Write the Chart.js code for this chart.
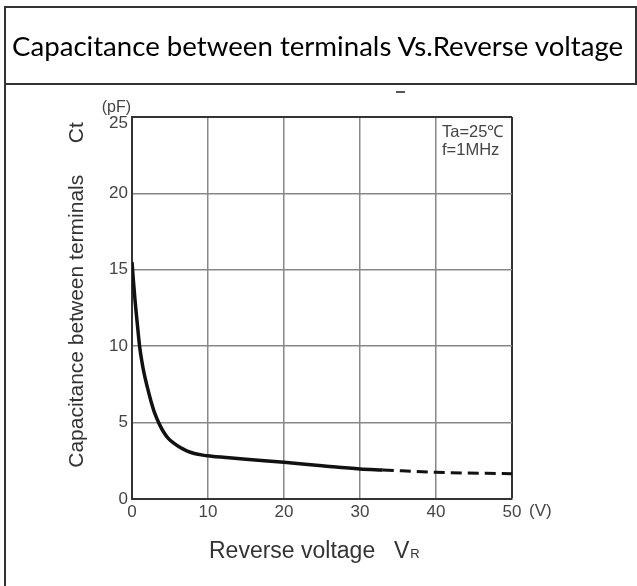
<!DOCTYPE html>
<html>
<head>
<meta charset="utf-8">
<script src="https://cdn.jsdelivr.net/npm/chart.js@4/dist/chart.umd.min.js"></script>
<style>
  html, body { margin: 0; padding: 0; background: #fff; }
  #wrap { position: relative; width: 637px; height: 586px; overflow: hidden; background: #fff; }
  #c { position: absolute; left: 0; top: 0; }
  #frame { position: absolute; left: 4px; top: 6px; width: 640px; height: 600px;
           border-left: 2px solid #333; border-top: 2px solid #333; pointer-events: none; }
  #rightEdge { position: absolute; left: 635px; top: 6px; width: 2px; height: 79px; background: #333; }
  #titleLine { position: absolute; left: 4px; top: 83px; width: 640px; height: 2px; background: #333; }
  #stray { position: absolute; left: 396px; top: 91px; width: 9px; height: 2px; background: #555; }
  #title { position: absolute; left: 12px; top: 30px; font-family: Lato, "Open Sans", sans-serif;
           color: #000; white-space: nowrap; line-height: 1; }
</style>
</head>
<body>
<div id="wrap">
  <canvas id="c" width="637" height="586"></canvas>
  <div id="frame"></div>
  <div id="rightEdge"></div>
  <div id="titleLine"></div>
  <div id="stray"></div>
  <div id="title">Capacitance between terminals Vs.Reverse voltage</div>
</div>
<script>
// ---- data ----
const voltageSolid = [0, 0.2, 0.4, 0.6, 0.8, 1.0, 1.3, 1.6, 2.0, 2.5, 3.0, 3.6, 4.2, 4.8, 5.5, 6.3, 7.2, 8.2, 9.3, 10.5, 12, 15, 20, 25, 30, 33];
const capSolid     = [15.5, 14.2, 13.0, 11.95, 10.95, 10.0, 9.0, 8.2, 7.35, 6.4, 5.6, 4.9, 4.35, 3.95, 3.65, 3.38, 3.15, 2.98, 2.87, 2.8, 2.73, 2.6, 2.4, 2.18, 1.97, 1.9];
const voltageDashed = [33, 40, 50];
const capDashed     = [1.9, 1.75, 1.65];
const xTicks = [0, 10, 20, 30, 40, 50];
const yTicks = [0, 5, 10, 15, 20, 25];
const titleText = 'Capacitance between terminals Vs.Reverse voltage';
const yAxisTitle = 'Capacitance between terminals';
const yAxisSymbol = 'Ct';
const xAxisTitle = 'Reverse voltage';
const conditions = ['Ta=25\u2103', 'f=1MHz'];

// fit title width
(function fitTitle() {
  const el = document.getElementById('title');
  const cv = document.createElement('canvas').getContext('2d');
  let size = 24;
  cv.font = size + 'px Lato';
  const w = cv.measureText(titleText).width;
  size = size * 613 / w;
  el.style.fontSize = size.toFixed(2) + 'px';
  el.style.top = (47 - size * 0.55) + 'px';
})();

const toPts = (xs, ys) => xs.map((x, i) => ({ x: x, y: ys[i] }));

const TICK_COLOR = '#444';
const FAM = '"Liberation Sans", Arial, sans-serif';
const tickFont = { family: FAM, size: 17 };
const yMax = yTicks[yTicks.length - 1];

const decorations = {
  id: 'decorations',
  afterDraw(chart) {
    const { ctx, scales } = chart;
    const xs = scales.x, ys = scales.y;
    ctx.save();
    ctx.fillStyle = TICK_COLOR;
    ctx.font = '17px ' + FAM;
    ctx.textAlign = 'right';
    ctx.textBaseline = 'middle';
    ctx.fillText(String(yMax), xs.getPixelForValue(0) - 4, ys.getPixelForValue(yMax) + 6);
    ctx.font = '16px ' + FAM;
    ctx.fillText('(pF)', xs.getPixelForValue(0) - 1, ys.getPixelForValue(yMax) - 9);
    ctx.font = '17px ' + FAM;
    ctx.textAlign = 'left';
    ctx.textBaseline = 'top';
    ctx.fillText('(V)', xs.getPixelForValue(50) + 17, ys.getPixelForValue(0) + 4);
    ctx.fillStyle = '#444';
    ctx.font = '16.5px ' + FAM;
    ctx.textAlign = 'left';
    ctx.textBaseline = 'middle';
    ctx.fillText(conditions[0], xs.getPixelForValue(40) + 6, ys.getPixelForValue(yMax) + 15);
    ctx.fillText(conditions[1], xs.getPixelForValue(40) + 6, ys.getPixelForValue(yMax) + 33);
    ctx.fillStyle = '#333';
    ctx.font = '21px ' + FAM;
    ctx.translate(77, 295);
    ctx.rotate(-Math.PI / 2);
    ctx.textAlign = 'center';
    ctx.textBaseline = 'middle';
    ctx.fillText(yAxisTitle + '\u2003\u2002' + yAxisSymbol, 0, 0);
    ctx.restore();
    ctx.save();
    ctx.fillStyle = '#333';
    ctx.font = '23px ' + FAM;
    ctx.textBaseline = 'alphabetic';
    ctx.textAlign = 'left';
    const xt = 209, yt = 558;
    ctx.fillText(xAxisTitle, xt, yt);
    const vx = 394;
    ctx.fillText('V', vx, yt);
    const wv = ctx.measureText('V').width;
    ctx.font = '13px ' + FAM;
    ctx.fillText('R', vx + wv + 1, yt);
    ctx.restore();
  }
};

new Chart(document.getElementById('c'), {
  type: 'line',
  data: {
    datasets: [
      { data: toPts(voltageSolid, capSolid), borderColor: '#111', borderWidth: 3.5,
        pointRadius: 0, cubicInterpolationMode: 'monotone', fill: false },
      { data: toPts(voltageDashed, capDashed), borderColor: '#111', borderWidth: 3,
        borderDash: [11, 6], pointRadius: 0, cubicInterpolationMode: 'monotone', fill: false }
    ]
  },
  options: {
    responsive: false,
    animation: false,
    layout: { padding: { left: 0, top: 117, right: 125, bottom: 0 } },
    plugins: { legend: { display: false }, tooltip: { enabled: false }, title: { display: false } },
    scales: {
      x: {
        type: 'linear', min: 0, max: 50,
        afterBuildTicks: (s) => { s.ticks = xTicks.map(v => ({ value: v })); },
        afterFit: (s) => { s.height = 87; },
        ticks: { color: TICK_COLOR, font: tickFont, padding: 3, maxRotation: 0, autoSkip: false },
        grid: { drawTicks: false,
                color: (c) => (c.tick && (c.tick.value === 50)) ? '#333' : '#888',
                lineWidth: (c) => (c.tick && (c.tick.value === 50)) ? 2 : 1.5 },
        border: { display: true, color: '#333', width: 2 }
      },
      y: {
        type: 'linear', min: 0, max: 25,
        afterBuildTicks: (s) => { s.ticks = yTicks.map(v => ({ value: v })); },
        afterFit: (s) => { s.width = 132; },
        ticks: { color: TICK_COLOR, font: tickFont, padding: 4, autoSkip: false,
                 callback: (v) => (v === yMax ? '' : String(v)) },
        grid: { drawTicks: false,
                color: (c) => (c.tick && (c.tick.value === 25)) ? '#333' : '#888',
                lineWidth: (c) => (c.tick && (c.tick.value === 25)) ? 2 : 1.5 },
        border: { display: true, color: '#333', width: 2 }
      }
    }
  },
  plugins: [decorations]
});
</script>
</body>
</html>
